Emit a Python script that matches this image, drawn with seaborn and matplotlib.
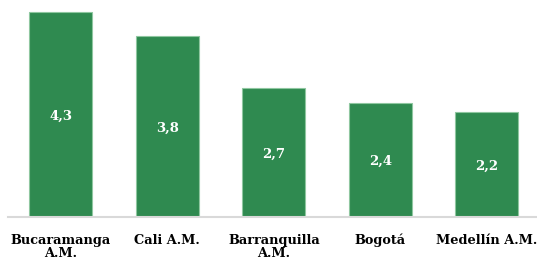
import matplotlib
matplotlib.use("Agg")
import matplotlib.pyplot as plt
import seaborn as sns
import pandas as pd

cities = ["Bucaramanga\nA.M.", "Cali A.M.", "Barranquilla\nA.M.", "Bogotá", "Medellín A.M."]
values = [4.3, 3.8, 2.7, 2.4, 2.2]
labels = ["4,3", "3,8", "2,7", "2,4", "2,2"]

df = pd.DataFrame({"city": cities, "value": values})

sns.set_style("white")
plt.rcParams["font.family"] = ["DejaVu Serif"]

fig = plt.figure(figsize=(5.37, 2.62), dpi=100)
ax = fig.add_axes([7.5 / 537, 45 / 262, 1 - 7.5 / 537, 1 - 45 / 262])

sns.barplot(data=df, x="city", y="value", color="#2F8A50", saturation=1,
            width=0.59, edgecolor="#8FC7A0", linewidth=0.8, ax=ax)

for i, (v, lab) in enumerate(zip(values, labels)):
    ax.text(i, v / 2 - 0.03, lab, ha="center", va="center", color="white",
            fontsize=9.5, fontweight="bold")

ax.set_xlim(-0.5, 4.47)
ax.set_ylim(0, 4.55)
ax.set_xlabel("")
ax.set_ylabel("")
ax.set_yticks([])
for s in ["top", "right", "left"]:
    ax.spines[s].set_visible(False)
ax.spines["bottom"].set_color("#D9D9D9")
ax.spines["bottom"].set_linewidth(1.5)
ax.tick_params(axis="x", length=0)
ax.set_xticklabels([])

# category labels: baseline of the last line placed so the first line sits at the same height
for i, c in enumerate(cities):
    n = c.count("\n")
    ax.annotate(c, xy=(i, 0), xycoords="data", xytext=(0, -19.5 - 9.4 * n),
                textcoords="offset points", ha="center", va="baseline",
                fontsize=9.3, fontweight="bold", linespacing=1.0,
                color="black", annotation_clip=False)

fig.savefig("out.png", dpi=100)
